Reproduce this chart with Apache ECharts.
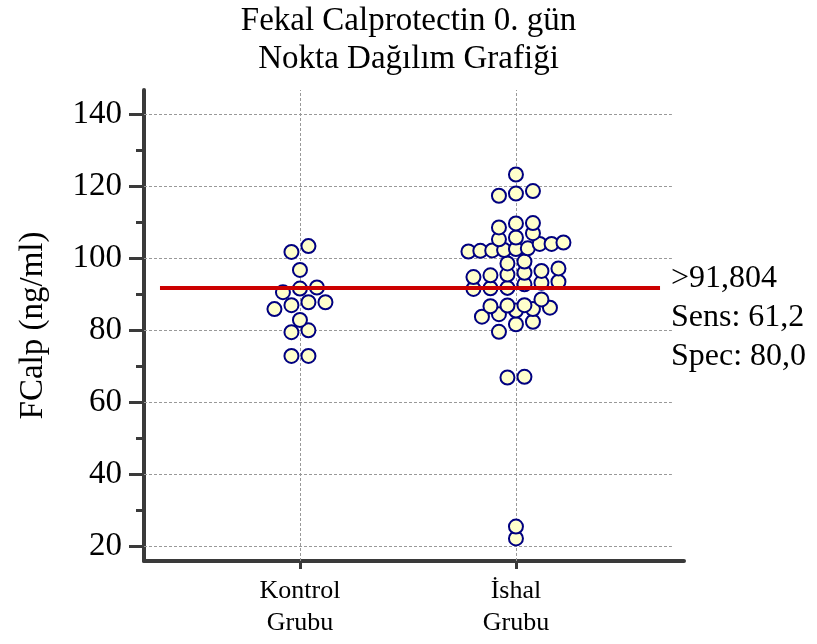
<!DOCTYPE html>
<html><head><meta charset="utf-8">
<script src="https://cdn.jsdelivr.net/npm/echarts@6/dist/echarts.min.js"></script>
<style>html,body{margin:0;padding:0;background:#fff}#c{width:817px;height:644px}</style>
</head><body><div id="c"></div>
<script>
// ---- data ----
const titleLines = ['Fekal Calprotectin 0. gün', 'Nokta Dağılım Grafiği'];
const categories = ['Kontrol\nGrubu', 'İshal\nGrubu'];
const kontrolValues = [72.8, 72.8, 79.4, 79.9, 82.8, 85.8, 86.9, 87.7, 87.7, 90.5, 91.5, 91.8, 96.7, 101.7, 103.3];
const ishalValues = [22.1, 25.4, 66.8, 67.0, 79.5, 81.6, 82.3, 83.7, 84.4, 85.4, 85.8, 86.2,
  86.6, 86.8, 86.9, 88.5, 91.4, 91.6, 91.7, 92.7, 93.1, 93.4, 94.7, 95.2, 95.4, 95.9, 96.4, 97.1,
  98.5, 99.0, 101.8, 102.0, 102.1, 102.2, 102.5, 102.7, 103.9, 103.9, 104.3, 105.2, 105.7, 106.9,
  108.5, 109.6, 109.7, 117.3, 117.9, 118.6, 123.2];
const yTickValues = [20, 40, 60, 80, 100, 120, 140];
const yMinorTickValues = [30, 50, 70, 90, 110, 130];
const cutoff = 91.804;
const cutoffLabel = ['>91,804', 'Sens: 61,2', 'Spec: 80,0'];
const yAxisName = 'FCalp (ng/ml)';

// ---- layout ----
const W = 817, H = 644;
const GRID = {left: 144, right: 133, top: 90, bottom: 83};
const X_MIN = 0.278, X_MAX = 2.778;
const Y_MIN = 15.83, Y_MAX = 146.67;
const GRID_END_X = 2.722;
const RED_FROM = 0.352, RED_TO = 2.667;
const FONT = '"Liberation Serif", "Times New Roman", serif';
const BIN = 3.667;          // bin height in data units (~ symbol diameter)
const STEP_PX = 17;         // horizontal spacing of dots in a bin
const MAX_SPAN_PX = 95;     // max width of a row

function swarm(values, catPos) {
  const pxPerX = (W - GRID.left - GRID.right) / (X_MAX - X_MIN);
  const min = Math.min.apply(null, values);
  const bins = {};
  values.forEach(v => {
    const k = Math.round((v - min) / BIN);
    (bins[k] = bins[k] || []).push(v);
  });
  const out = [];
  Object.keys(bins).sort((a, b) => a - b).forEach(k => {
    const arr = bins[k].slice().sort((a, b) => a - b);
    const n = arr.length;
    const step = n > 1 ? Math.min(STEP_PX, MAX_SPAN_PX / (n - 1)) : 0;
    arr.forEach((v, i) => {
      const dx = (i - (n - 1) / 2) * step;
      out.push([catPos + dx / pxPerX, v]);
    });
  });
  return out;
}

const groups = [kontrolValues, ishalValues];
const scatterData = [];
groups.forEach((vals, gi) => { swarm(vals, gi + 1).forEach(p => scatterData.push(p)); });

const gridLineData = yTickValues.map(v => [{coord: [X_MIN, v]}, {coord: [GRID_END_X, v]}])
  .concat(categories.map((c, i) => ({xAxis: i + 1})));

const chart = echarts.init(document.getElementById('c'), null, {renderer: 'canvas'});
chart.setOption({
  animation: false,
  backgroundColor: '#fff',
  title: {
    text: titleLines.join('\n'),
    left: 'center', top: -3,
    textStyle: {fontFamily: FONT, fontSize: 33, fontWeight: 'normal', color: '#000', lineHeight: 38}
  },
  grid: {left: GRID.left, right: GRID.right, top: GRID.top, bottom: GRID.bottom, containLabel: false},
  xAxis: {
    type: 'value', min: X_MIN, max: X_MAX,
    axisLine: {onZero: false, lineStyle: {color: '#3a3a3a', width: 4}},
    axisTick: {customValues: [1, 2], length: 8, lineStyle: {color: '#3a3a3a', width: 3}},
    axisLabel: {customValues: [1, 2], formatter: v => categories[Math.round(v) - 1] || '',
      fontFamily: FONT, fontSize: 26, lineHeight: 32, color: '#000', margin: 14},
    splitLine: {show: false}
  },
  yAxis: [{
    type: 'value', min: Y_MIN, max: Y_MAX,
    name: yAxisName, nameLocation: 'middle', nameGap: 94,
    nameTextStyle: {fontFamily: FONT, fontSize: 33, color: '#000'},
    axisLine: {onZero: false, lineStyle: {color: '#3a3a3a', width: 4}},
    axisTick: {customValues: yTickValues, length: 15, lineStyle: {color: '#3a3a3a', width: 3}},
    axisLabel: {customValues: yTickValues, fontFamily: FONT, fontSize: 33, color: '#000', margin: 22},
    splitLine: {show: false}
  }, {
    type: 'value', min: Y_MIN, max: Y_MAX, position: 'left',
    axisLine: {show: false, onZero: false},
    axisTick: {customValues: yMinorTickValues, length: 8, lineStyle: {color: '#3a3a3a', width: 3}},
    axisLabel: {show: false},
    splitLine: {show: false}
  }],
  series: [{
    type: 'line', data: [], z: 1, silent: true,
    markLine: {
      z: 1, silent: true, symbol: 'none', animation: false,
      lineStyle: {color: '#999', width: 1, type: [3, 2]},
      label: {show: false},
      data: gridLineData
    }
  }, {
    type: 'scatter', z: 3, data: scatterData,
    symbol: 'circle', symbolSize: 14,
    itemStyle: {color: '#ffffcc', borderColor: '#000080', borderWidth: 2, opacity: 1}
  }, {
    type: 'line', data: [], z: 5, silent: true,
    markLine: {
      z: 6, silent: true, symbol: 'none', animation: false,
      lineStyle: {color: '#cc0000', width: 4, type: 'solid'},
      label: {show: true, position: 'end', formatter: cutoffLabel.join('\n'),
        fontFamily: FONT, fontSize: 32, lineHeight: 39, color: '#000', distance: 11, offset: [0, 30]},
      data: [[{coord: [RED_FROM, cutoff]}, {coord: [RED_TO, cutoff]}]]
    }
  }]
});
</script>
</body></html>
